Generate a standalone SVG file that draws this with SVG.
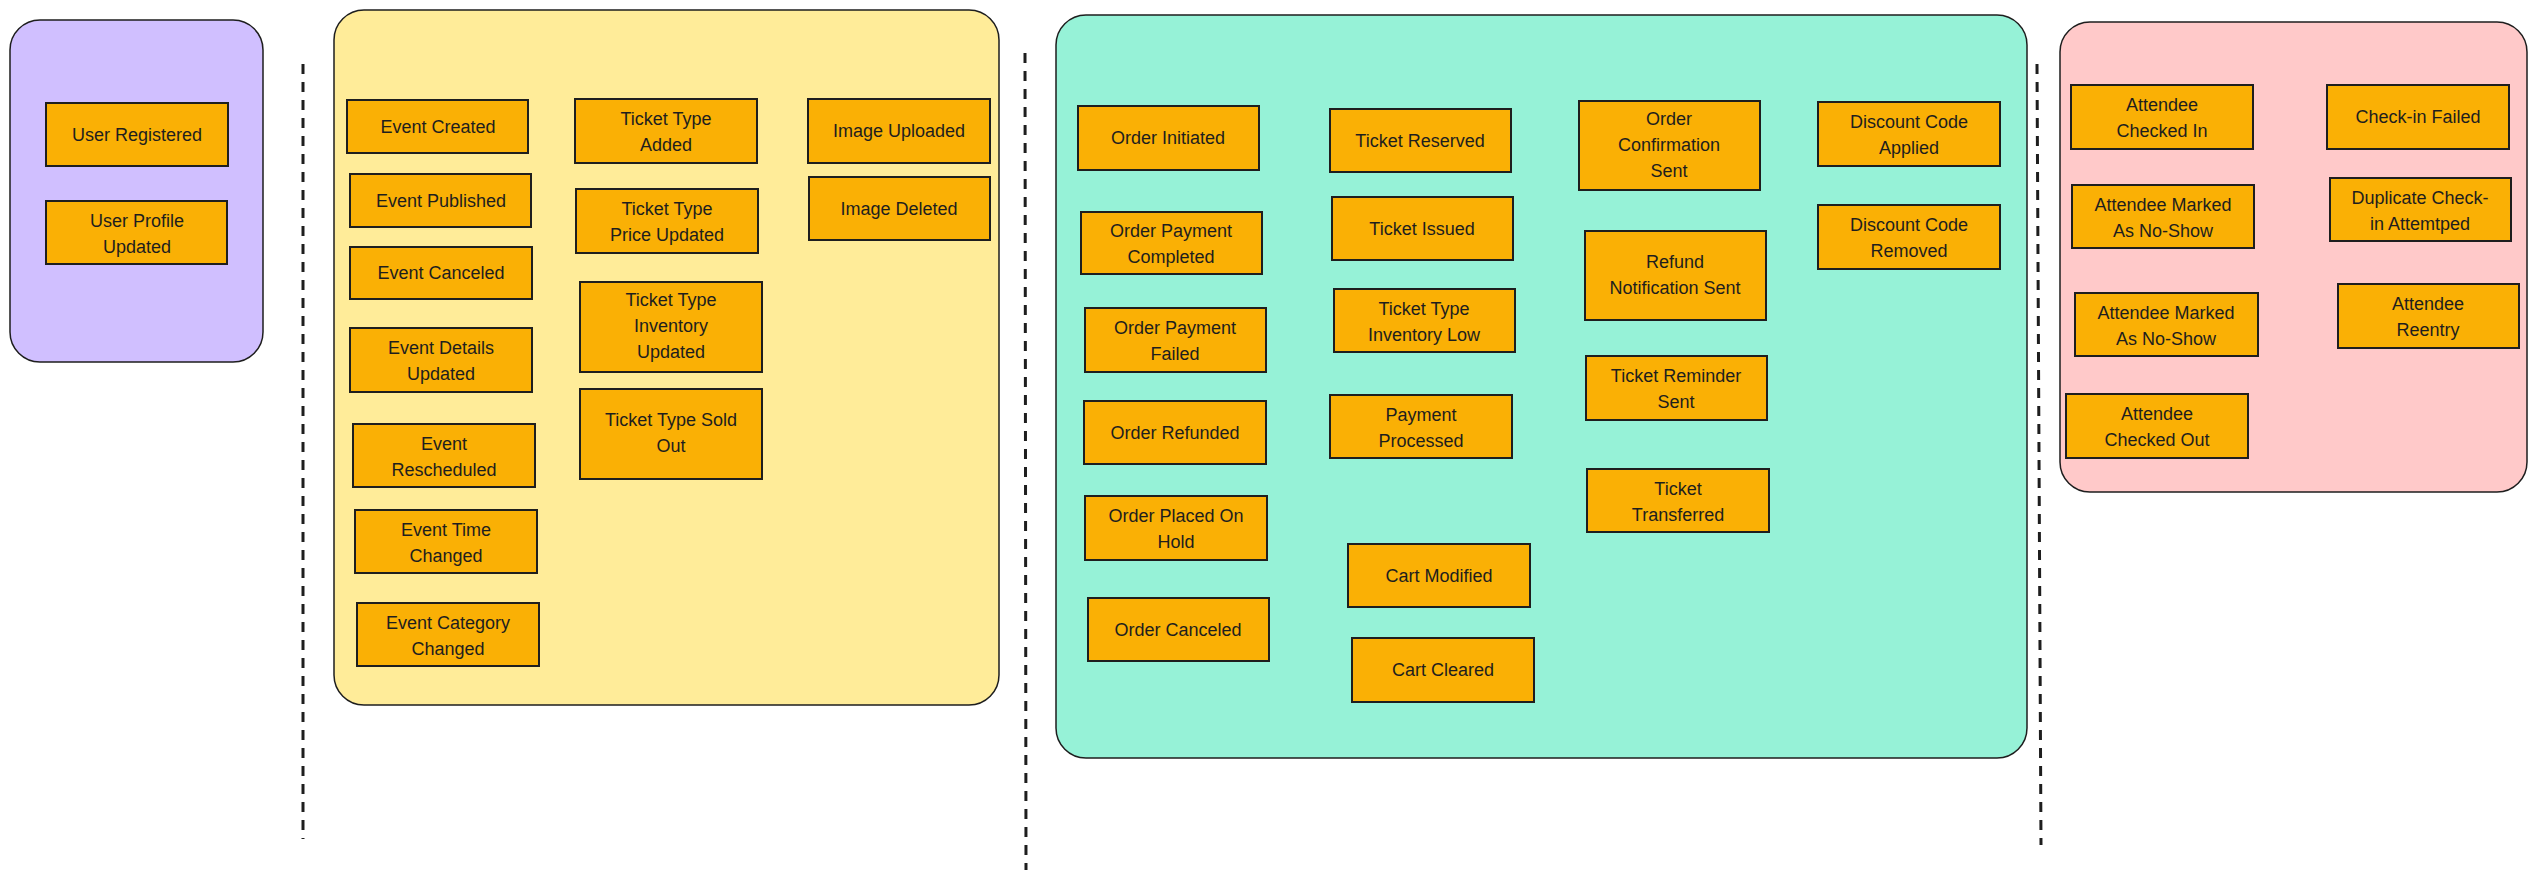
<svg xmlns="http://www.w3.org/2000/svg" width="2534" height="876" viewBox="0 0 2534 876">
<style>
.area{stroke:#1e1e1e;stroke-width:1.5}
.n rect{fill:#fab005;stroke:#1e1e1e;stroke-width:2}
.n text{font-family:"Liberation Sans",Arial,sans-serif;font-size:18px;fill:#1e1e1e;text-anchor:middle}
.sep{stroke:#1e1e1e;stroke-width:3;stroke-dasharray:10 8;fill:none}
</style>
<rect width="2534" height="876" fill="#fff"/>
<g id="areas">
<rect id="area-user" class="area" x="10" y="20" width="253" height="342" rx="30" fill="#d0bfff"/>
<rect id="area-event" class="area" x="334" y="10" width="665" height="695" rx="30" fill="#ffec99"/>
<rect id="area-order" class="area" x="1056" y="15" width="971" height="743" rx="30" fill="#96f2d7"/>
<rect id="area-checkin" class="area" x="2060" y="22" width="467" height="470" rx="30" fill="#ffc9c9"/>
</g>
<g id="connectors">
<line class="sep" x1="303" y1="64" x2="303" y2="839"/>
<line class="sep" x1="1025" y1="53" x2="1026" y2="870"/>
<line class="sep" x1="2037" y1="64" x2="2041" y2="845"/>
</g>
<g id="n1" class="n"><rect x="46" y="103" width="182" height="63"/><text x="137" y="141">User Registered</text></g>
<g id="n2" class="n"><rect x="46" y="201" width="181" height="63"/><text x="137" y="227">User Profile<tspan x="137" dy="26">Updated</tspan></text></g>
<g id="n3" class="n"><rect x="347" y="100" width="181" height="53"/><text x="438" y="133">Event Created</text></g>
<g id="n4" class="n"><rect x="350" y="174" width="181" height="53"/><text x="441" y="207">Event Published</text></g>
<g id="n5" class="n"><rect x="350" y="247" width="182" height="52"/><text x="441" y="279">Event Canceled</text></g>
<g id="n6" class="n"><rect x="350" y="328" width="182" height="64"/><text x="441" y="354">Event Details<tspan x="441" dy="26">Updated</tspan></text></g>
<g id="n7" class="n"><rect x="353" y="424" width="182" height="63"/><text x="444" y="450">Event<tspan x="444" dy="26">Rescheduled</tspan></text></g>
<g id="n8" class="n"><rect x="355" y="510" width="182" height="63"/><text x="446" y="536">Event Time<tspan x="446" dy="26">Changed</tspan></text></g>
<g id="n9" class="n"><rect x="357" y="603" width="182" height="63"/><text x="448" y="629">Event Category<tspan x="448" dy="26">Changed</tspan></text></g>
<g id="n10" class="n"><rect x="575" y="99" width="182" height="64"/><text x="666" y="125">Ticket Type<tspan x="666" dy="26">Added</tspan></text></g>
<g id="n11" class="n"><rect x="576" y="189" width="182" height="64"/><text x="667" y="215">Ticket Type<tspan x="667" dy="26">Price Updated</tspan></text></g>
<g id="n12" class="n"><rect x="580" y="282" width="182" height="90"/><text x="671" y="306">Ticket Type<tspan x="671" dy="26">Inventory</tspan><tspan x="671" dy="26">Updated</tspan></text></g>
<g id="n13" class="n"><rect x="580" y="389" width="182" height="90"/><text x="671" y="426">Ticket Type Sold<tspan x="671" dy="26">Out</tspan></text></g>
<g id="n14" class="n"><rect x="808" y="99" width="182" height="64"/><text x="899" y="137">Image Uploaded</text></g>
<g id="n15" class="n"><rect x="809" y="177" width="181" height="63"/><text x="899" y="215">Image Deleted</text></g>
<g id="n16" class="n"><rect x="1078" y="106" width="181" height="64"/><text x="1168" y="144">Order Initiated</text></g>
<g id="n17" class="n"><rect x="1081" y="212" width="181" height="62"/><text x="1171" y="237">Order Payment<tspan x="1171" dy="26">Completed</tspan></text></g>
<g id="n18" class="n"><rect x="1085" y="308" width="181" height="64"/><text x="1175" y="334">Order Payment<tspan x="1175" dy="26">Failed</tspan></text></g>
<g id="n19" class="n"><rect x="1084" y="401" width="182" height="63"/><text x="1175" y="439">Order Refunded</text></g>
<g id="n20" class="n"><rect x="1085" y="496" width="182" height="64"/><text x="1176" y="522">Order Placed On<tspan x="1176" dy="26">Hold</tspan></text></g>
<g id="n21" class="n"><rect x="1088" y="598" width="181" height="63"/><text x="1178" y="636">Order Canceled</text></g>
<g id="n22" class="n"><rect x="1330" y="109" width="181" height="63"/><text x="1420" y="147">Ticket Reserved</text></g>
<g id="n23" class="n"><rect x="1332" y="197" width="181" height="63"/><text x="1422" y="235">Ticket Issued</text></g>
<g id="n24" class="n"><rect x="1334" y="289" width="181" height="63"/><text x="1424" y="315">Ticket Type<tspan x="1424" dy="26">Inventory Low</tspan></text></g>
<g id="n25" class="n"><rect x="1330" y="395" width="182" height="63"/><text x="1421" y="421">Payment<tspan x="1421" dy="26">Processed</tspan></text></g>
<g id="n26" class="n"><rect x="1348" y="544" width="182" height="63"/><text x="1439" y="582">Cart Modified</text></g>
<g id="n27" class="n"><rect x="1352" y="638" width="182" height="64"/><text x="1443" y="676">Cart Cleared</text></g>
<g id="n28" class="n"><rect x="1579" y="101" width="181" height="89"/><text x="1669" y="125">Order<tspan x="1669" dy="26">Confirmation</tspan><tspan x="1669" dy="26">Sent</tspan></text></g>
<g id="n29" class="n"><rect x="1585" y="231" width="181" height="89"/><text x="1675" y="268">Refund<tspan x="1675" dy="26">Notification Sent</tspan></text></g>
<g id="n30" class="n"><rect x="1586" y="356" width="181" height="64"/><text x="1676" y="382">Ticket Reminder<tspan x="1676" dy="26">Sent</tspan></text></g>
<g id="n31" class="n"><rect x="1587" y="469" width="182" height="63"/><text x="1678" y="495">Ticket<tspan x="1678" dy="26">Transferred</tspan></text></g>
<g id="n32" class="n"><rect x="1818" y="102" width="182" height="64"/><text x="1909" y="128">Discount Code<tspan x="1909" dy="26">Applied</tspan></text></g>
<g id="n33" class="n"><rect x="1818" y="205" width="182" height="64"/><text x="1909" y="231">Discount Code<tspan x="1909" dy="26">Removed</tspan></text></g>
<g id="n34" class="n"><rect x="2071" y="85" width="182" height="64"/><text x="2162" y="111">Attendee<tspan x="2162" dy="26">Checked In</tspan></text></g>
<g id="n35" class="n"><rect x="2072" y="185" width="182" height="63"/><text x="2163" y="211">Attendee Marked<tspan x="2163" dy="26">As No-Show</tspan></text></g>
<g id="n36" class="n"><rect x="2075" y="293" width="183" height="63"/><text x="2166" y="319">Attendee Marked<tspan x="2166" dy="26">As No-Show</tspan></text></g>
<g id="n37" class="n"><rect x="2066" y="394" width="182" height="64"/><text x="2157" y="420">Attendee<tspan x="2157" dy="26">Checked Out</tspan></text></g>
<g id="n38" class="n"><rect x="2327" y="85" width="182" height="64"/><text x="2418" y="123">Check-in Failed</text></g>
<g id="n39" class="n"><rect x="2330" y="178" width="181" height="63"/><text x="2420" y="204">Duplicate Check-<tspan x="2420" dy="26">in Attemtped</tspan></text></g>
<g id="n40" class="n"><rect x="2338" y="284" width="181" height="64"/><text x="2428" y="310">Attendee<tspan x="2428" dy="26">Reentry</tspan></text></g>
</svg>
